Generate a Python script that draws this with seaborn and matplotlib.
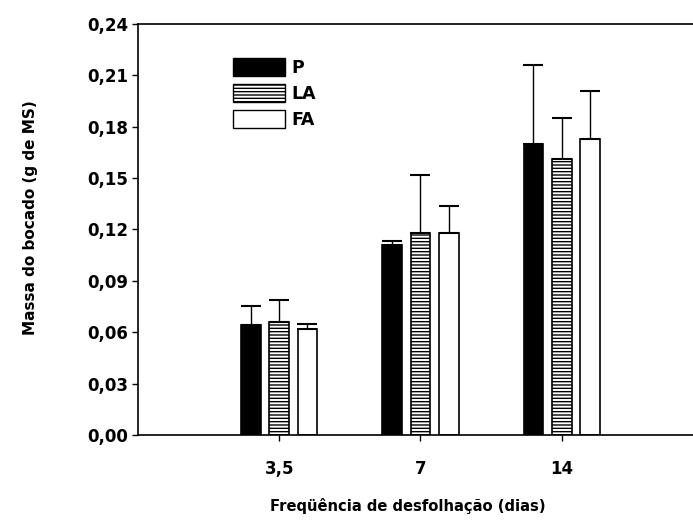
import matplotlib
matplotlib.use("Agg")
import matplotlib.pyplot as plt
import seaborn as sns
import pandas as pd
import numpy as np
from matplotlib.patches import Patch

# Defoliation frequency (days) and treatments
frequencias = ["3,5", "7", "14"]
tratamentos = ["P", "LA", "FA"]

# Mean bite mass (g DM) per treatment, one value per frequency
media_p = [0.0645, 0.111, 0.170]
media_la = [0.066, 0.118, 0.161]
media_fa = [0.062, 0.118, 0.173]

# Upper error (standard deviation) per treatment
erro_p = [0.011, 0.002, 0.046]
erro_la = [0.013, 0.034, 0.024]
erro_fa = [0.003, 0.016, 0.028]

y_ticks = [0.00, 0.03, 0.06, 0.09, 0.12, 0.15, 0.18, 0.21, 0.24]

medias = {"P": media_p, "LA": media_la, "FA": media_fa}
erros = {"P": erro_p, "LA": erro_la, "FA": erro_fa}

df = pd.DataFrame(
    [(f, t, medias[t][i]) for t in tratamentos for i, f in enumerate(frequencias)],
    columns=["freq", "trat", "massa"],
)

sns.set_style("ticks")
plt.rcParams["font.family"] = ["DejaVu Sans"]
plt.rcParams["font.weight"] = "bold"
plt.rcParams["axes.labelweight"] = "bold"
plt.rcParams["axes.labelcolor"] = "black"
plt.rcParams["text.color"] = "black"
plt.rcParams["hatch.linewidth"] = 1.0

fig = plt.figure(figsize=(6.93, 5.22), dpi=100)
ax = fig.add_axes([0.1991, 0.1667, 0.8153, 0.7873])

cores = {"P": "black", "LA": "white", "FA": "white"}
sns.barplot(
    data=df, x="freq", y="massa", hue="trat", order=frequencias,
    hue_order=tratamentos, palette=cores, width=0.6, gap=0.3,
    edgecolor="black", linewidth=1.2, errorbar=None, ax=ax, legend=False,
)

# Style bars per treatment and draw upward error bars
for cont, trat in zip(ax.containers, tratamentos):
    xs, tops = [], []
    for patch in cont:
        patch.set_edgecolor("black")
        if trat == "LA":
            patch.set_hatch("-----")
        xs.append(patch.get_x() + patch.get_width() / 2)
        tops.append(patch.get_height())
    err = np.array(erros[trat])
    ax.errorbar(xs, tops, yerr=[np.zeros_like(err), err], fmt="none",
                ecolor="black", elinewidth=1.0, capsize=7, capthick=1.5)

ax.set_xlim(-1, 3)
ax.set_ylim(0, 0.24)
ax.set_yticks(y_ticks)
ax.set_yticklabels([f"{v:.2f}".replace(".", ",") for v in y_ticks])
ax.tick_params(axis="both", direction="out", length=4, width=1,
               labelsize=12, colors="black")
ax.tick_params(axis="x", pad=14)
ax.tick_params(axis="y", pad=3)
for s in ax.spines.values():
    s.set_linewidth(1.2)
    s.set_color("black")

ax.set_xlabel("Freqüência de desfolhação (dias)", fontsize=10.6, color="black")
ax.set_ylabel("Massa do bocado (g de MS)", fontsize=11, color="black")
ax.xaxis.set_label_coords(0.478, -0.153)
ax.yaxis.set_label_coords(-0.177, 0.528)

# Legend
handles = [
    Patch(facecolor="black", edgecolor="black", label="P"),
    Patch(facecolor="white", edgecolor="black", hatch="-----", label="LA"),
    Patch(facecolor="white", edgecolor="black", label="FA"),
]
leg = ax.legend(handles=handles, loc="upper left", bbox_to_anchor=(0.14, 0.955),
                frameon=False, fontsize=12.5, handlelength=3.0, handleheight=1.25,
                labelspacing=0.4, handletextpad=0.4)
for t in leg.get_texts():
    t.set_color("black")

fig.savefig("out.png", dpi=100)
